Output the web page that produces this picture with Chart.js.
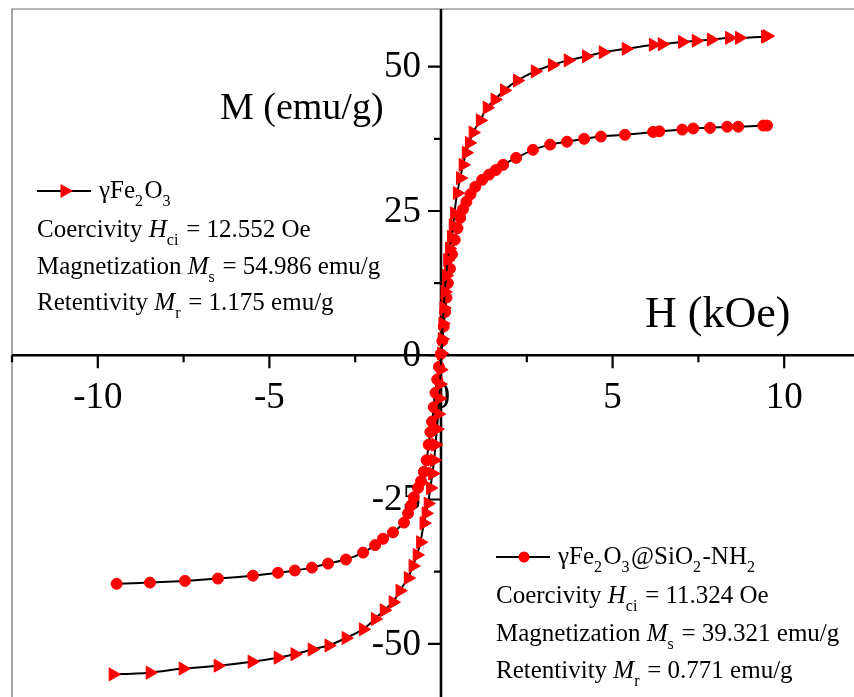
<!DOCTYPE html>
<html>
<head>
<meta charset="utf-8">
<script src="https://cdn.jsdelivr.net/npm/chart.js@4.4.1/dist/chart.umd.min.js"></script>
<style>
html,body{margin:0;padding:0;background:#fff;overflow:hidden;width:854px;height:697px;}
canvas{position:absolute;left:0;top:0;}
</style>
</head>
<body>
<canvas id="c" width="880" height="710"></canvas>
<script>
// ---- data (H in kOe, M in emu/g) ----
const fe2o3H = [-9.56,-8.48,-7.52,-6.50,-5.51,-4.75,-4.26,-3.76,-3.27,-2.77,-2.27,-1.92,-1.66,-1.40,-1.20,-0.96,-0.82,-0.70,-0.60,-0.50,-0.44,-0.38,-0.31,-0.25,-0.20,-0.16,-0.12,-0.08,-0.05,-0.03,-0.01,0.01,0.03,0.05,0.08,0.11,0.15,0.19,0.24,0.30,0.35,0.39,0.47,0.56,0.64,0.73,0.82,0.93,1.14,1.34,1.57,1.84,2.22,2.74,3.24,3.70,4.23,4.72,5.39,6.18,6.44,7.03,7.43,7.87,8.40,8.69,9.45,9.50];
const fe2o3M = [-55.3,-55.0,-54.3,-53.8,-53.1,-52.4,-51.8,-51.0,-50.3,-49.0,-47.5,-45.7,-44.2,-42.8,-40.8,-38.6,-36.5,-34.6,-32.4,-29.1,-27.4,-25.7,-23.0,-20.5,-18.2,-15.5,-12.8,-10.2,-7.5,-5.0,-2.5,0.3,2.8,5.5,8.2,11.0,13.8,16.5,18.5,20.5,22.5,24.6,28.1,30.7,33.0,35.1,36.8,38.6,40.7,42.9,44.3,45.9,47.6,49.2,50.3,51.1,51.8,52.5,53.1,53.8,53.9,54.3,54.5,54.7,55.0,55.0,55.2,55.3];
const coatedH = [-9.45,-8.48,-7.46,-6.50,-5.48,-4.75,-4.26,-3.76,-3.29,-2.77,-2.27,-1.92,-1.69,-1.40,-1.08,-0.96,-0.87,-0.79,-0.67,-0.58,-0.50,-0.42,-0.36,-0.31,-0.26,-0.21,-0.16,-0.11,-0.06,-0.01,0.04,0.08,0.12,0.16,0.20,0.26,0.32,0.40,0.48,0.56,0.64,0.74,0.86,1.00,1.20,1.40,1.60,1.81,2.19,2.68,3.18,3.67,4.17,4.66,5.36,6.18,6.36,7.03,7.35,7.84,8.34,8.66,9.39,9.50];
const coatedM = [-39.6,-39.4,-39.1,-38.7,-38.2,-37.7,-37.3,-36.8,-36.1,-35.4,-34.2,-32.9,-31.8,-30.7,-29.0,-27.4,-26.0,-24.6,-23.0,-21.8,-20.2,-18.2,-15.5,-13.3,-11.5,-9.0,-6.5,-4.2,-2.0,0.2,2.5,5.0,7.5,10.0,12.5,15.0,17.5,20.0,22.0,23.8,25.3,26.6,27.9,29.2,30.4,31.3,32.1,33.0,34.2,35.6,36.5,37.0,37.5,37.9,38.2,38.7,38.8,39.1,39.3,39.4,39.6,39.6,39.8,39.8];

const seriesNames = ['γFe2O3', 'γFe2O3@SiO2-NH2'];
const coercivity = ['12.552', '11.324'];     // Oe
const magnetization = ['54.986', '39.321'];  // emu/g
const retentivity = ['1.175', '0.771'];      // emu/g

const xMajorTicks = [-10, -5, 0, 5, 10];
const xTickLabels = ['-10', '-5', '0', '5', '10'];
const xMinorTicks = [-12.5, -7.5, -2.5, 2.5, 7.5, 12.5];
const yMajorTicks = [-50, -25, 0, 25, 50];
const yTickLabels = ['-50', '-25', '0', '25', '50'];
const yMinorTicks = [-37.5, -12.5, 12.5, 37.5];
const xTitle = 'H (kOe)';
const yTitle = 'M (emu/g)';

const SERIF = '"Liberation Serif", "Times New Roman", serif';
const RED = '#ff0000';

function rich(ctx, x, y, parts, size) {
  for (const [t, k] of parts) {
    let dy = 0;
    if (k === 'i') ctx.font = 'italic ' + size + 'px ' + SERIF;
    else if (k === 's') { ctx.font = Math.round(size * 0.64) + 'px ' + SERIF; dy = size * 0.3; }
    else ctx.font = size + 'px ' + SERIF;
    ctx.fillText(t, x, y + dy);
    x += ctx.measureText(t).width + (k === 's' ? 1.5 : 0);
  }
}

function formulaParts(name) {
  const parts = [];
  const re = /([A-Za-zγ@\-]+)|(\d+)/g;
  let m;
  while ((m = re.exec(name)) !== null) {
    if (m[1]) parts.push([m[1], 'n']); else parts.push([m[2], 's']);
  }
  return parts;
}

function legendBlock(ctx, idx, x, ySample, yLines, size) {
  ctx.strokeStyle = '#000'; ctx.lineWidth = 2;
  ctx.beginPath(); ctx.moveTo(x, ySample); ctx.lineTo(x + 54, ySample); ctx.stroke();
  ctx.fillStyle = RED;
  const cx = x + 28;
  if (idx === 0) {
    ctx.beginPath();
    ctx.moveTo(cx + 8, ySample); ctx.lineTo(cx - 4.5, ySample - 7); ctx.lineTo(cx - 4.5, ySample + 7); ctx.closePath(); ctx.fill();
  } else {
    ctx.beginPath(); ctx.arc(cx, ySample, 5.5, 0, Math.PI * 2); ctx.fill();
  }
  ctx.fillStyle = '#000';
  ctx.textAlign = 'left'; ctx.textBaseline = 'alphabetic';
  rich(ctx, x + 62, ySample + 7, formulaParts(seriesNames[idx]), size);
  rich(ctx, x, yLines[0], [['Coercivity ', 'n'], ['H', 'i'], ['ci', 's'], [' = ' + coercivity[idx] + ' Oe', 'n']], size);
  rich(ctx, x, yLines[1], [['Magnetization ', 'n'], ['M', 'i'], ['s', 's'], [' = ' + magnetization[idx] + ' emu/g', 'n']], size);
  rich(ctx, x, yLines[2], [['Retentivity ', 'n'], ['M', 'i'], ['r', 's'], [' = ' + retentivity[idx] + ' emu/g', 'n']], size);
}

const axesPlugin = {
  id: 'centerAxes',
  beforeDatasetsDraw(chart) {
    const {ctx, chartArea: a, scales: {x, y}} = chart;
    const x0 = x.getPixelForValue(0), y0 = y.getPixelForValue(0);
    ctx.save();
    ctx.strokeStyle = '#6a6a6a'; ctx.lineWidth = 1.2;
    ctx.beginPath(); ctx.moveTo(a.left, a.bottom); ctx.lineTo(a.left, a.top); ctx.lineTo(a.right, a.top); ctx.stroke();
    ctx.strokeStyle = '#000'; ctx.lineWidth = 2.6;
    ctx.beginPath(); ctx.moveTo(a.left, y0); ctx.lineTo(a.right, y0); ctx.stroke();
    ctx.beginPath(); ctx.moveTo(x0, a.top); ctx.lineTo(x0, a.bottom); ctx.stroke();
    ctx.lineWidth = 2.2;
    ctx.beginPath();
    xMajorTicks.forEach(v => { const px = x.getPixelForValue(v); ctx.moveTo(px, y0); ctx.lineTo(px, y0 + 13); });
    xMinorTicks.forEach(v => { const px = x.getPixelForValue(v); ctx.moveTo(px, y0); ctx.lineTo(px, y0 + 7); });
    yMajorTicks.forEach(v => { const py = y.getPixelForValue(v); ctx.moveTo(x0, py); ctx.lineTo(x0 - 13, py); });
    yMinorTicks.forEach(v => { const py = y.getPixelForValue(v); ctx.moveTo(x0, py); ctx.lineTo(x0 - 7, py); });
    ctx.stroke();
    ctx.fillStyle = '#000';
    ctx.font = '37px ' + SERIF;
    ctx.textAlign = 'center'; ctx.textBaseline = 'middle';
    xMajorTicks.forEach((v, i) => ctx.fillText(xTickLabels[i], x.getPixelForValue(v), y0 + 43));
    ctx.textAlign = 'right';
    yMajorTicks.forEach((v, i) => ctx.fillText(yTickLabels[i], x0 - 20, y.getPixelForValue(v) + 1));
    ctx.restore();
  },
  afterDatasetsDraw(chart) {
    const {ctx} = chart;
    ctx.save();
    ctx.fillStyle = '#000';
    ctx.textAlign = 'left'; ctx.textBaseline = 'alphabetic';
    ctx.font = '38px ' + SERIF;
    ctx.fillText(yTitle, 220, 119);
    ctx.font = '44px ' + SERIF;
    ctx.fillText(xTitle, 645, 327);
    legendBlock(ctx, 0, 37, 191, [237, 274, 310], 25);
    legendBlock(ctx, 1, 496, 557, [603, 641, 678], 25);
    ctx.restore();
  }
};

const toPts = (hs, ms) => hs.map((h, i) => ({x: h, y: ms[i]}));

new Chart(document.getElementById('c'), {
  type: 'scatter',
  data: {
    datasets: [
      {
        label: seriesNames[0],
        data: toPts(fe2o3H, fe2o3M),
        showLine: true, borderColor: '#000', borderWidth: 2, tension: 0.2,
        pointStyle: 'triangle', rotation: 90, pointRadius: 7.5,
        pointBackgroundColor: RED, pointBorderColor: RED, pointBorderWidth: 1
      },
      {
        label: seriesNames[1],
        data: toPts(coatedH, coatedM),
        showLine: true, borderColor: '#000', borderWidth: 2, tension: 0.2,
        pointStyle: 'circle', pointRadius: 5.5,
        pointBackgroundColor: RED, pointBorderColor: RED, pointBorderWidth: 1
      }
    ]
  },
  options: {
    responsive: false,
    animation: false,
    layout: {padding: {left: 12, top: 9, right: 10, bottom: 7}},
    plugins: {legend: {display: false}, tooltip: {enabled: false}},
    scales: {
      x: {type: 'linear', min: -12.5, max: 12.5, display: false},
      y: {type: 'linear', min: -60, max: 60, display: false}
    }
  },
  plugins: [axesPlugin]
});
</script>
</body>
</html>
